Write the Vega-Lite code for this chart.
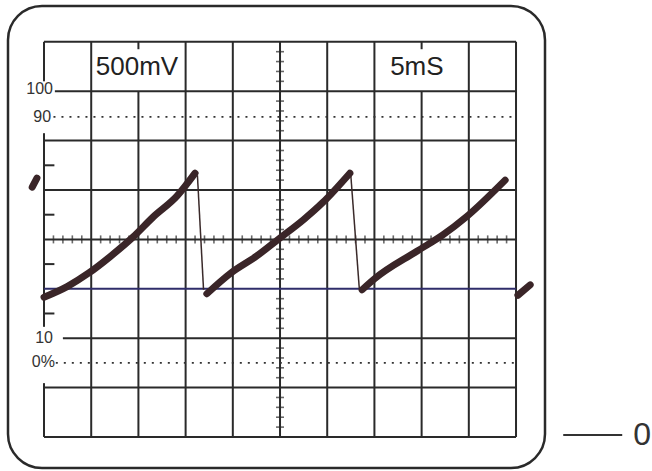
{
  "$schema": "https://vega.github.io/schema/vega-lite/v6.json",
  "autosize": {"type": "none"},
  "padding": {"left": 8, "top": 6, "right": 107, "bottom": 3},
  "width": 537,
  "height": 462,
  "background": "white",
  "config": {
    "view": {"stroke": "#2a2a2a", "strokeWidth": 2.5, "cornerRadius": 34, "fill": "white"},
    "axis": {"disable": true}
  },
  "datasets": {
    "vseg": [
      {"x": 0, "y0": 7.2, "y1": 8}, {"x": 0, "y0": 2.23, "y1": 6.15}, {"x": 0, "y0": 0, "y1": 1.09},
      {"x": 1, "y0": 0, "y1": 8}, {"x": 2, "y0": 0, "y1": 7}, {"x": 2, "y0": 7.85, "y1": 8},
      {"x": 3, "y0": 0, "y1": 8}, {"x": 4, "y0": 0, "y1": 8}, {"x": 5, "y0": 0, "y1": 8},
      {"x": 6, "y0": 0, "y1": 8}, {"x": 7, "y0": 0, "y1": 8}, {"x": 8, "y0": 0, "y1": 7},
      {"x": 8, "y0": 7.85, "y1": 8}, {"x": 9, "y0": 0, "y1": 8}, {"x": 10, "y0": 0, "y1": 8}
    ],
    "hseg": [
      {"y": 0, "x0": 0, "x1": 10}, {"y": 1, "x0": 0, "x1": 10}, {"y": 2, "x0": 0.4, "x1": 10},
      {"y": 4, "x0": 0, "x1": 10}, {"y": 5, "x0": 0, "x1": 10}, {"y": 6, "x0": 0, "x1": 10},
      {"y": 7, "x0": 0.23, "x1": 10}, {"y": 8, "x0": 0, "x1": 10},
      {"y": 2.5, "x0": 0, "x1": 0.22}, {"y": 3.5, "x0": 0, "x1": 0.22},
      {"y": 4.5, "x0": 0, "x1": 0.22}, {"y": 5.5, "x0": 0, "x1": 0.22}
    ],
    "blue": [{"y": 3, "x0": 0, "x1": 10}],
    "dots": [{"y": 6.48, "x0": 0.2, "x1": 10}, {"y": 1.5, "x0": 0.25, "x1": 10}],
    "vticks": [
      {"x": 5, "y": 0.2}, {"x": 5, "y": 0.4}, {"x": 5, "y": 0.6}, {"x": 5, "y": 0.8},
      {"x": 5, "y": 1.2}, {"x": 5, "y": 1.4}, {"x": 5, "y": 1.6}, {"x": 5, "y": 1.8},
      {"x": 5, "y": 2.2}, {"x": 5, "y": 2.4}, {"x": 5, "y": 2.6}, {"x": 5, "y": 2.8},
      {"x": 5, "y": 3.2}, {"x": 5, "y": 3.4}, {"x": 5, "y": 3.6}, {"x": 5, "y": 3.8},
      {"x": 5, "y": 4.2}, {"x": 5, "y": 4.4}, {"x": 5, "y": 4.6}, {"x": 5, "y": 4.8},
      {"x": 5, "y": 5.2}, {"x": 5, "y": 5.4}, {"x": 5, "y": 5.6}, {"x": 5, "y": 5.8},
      {"x": 5, "y": 6.2}, {"x": 5, "y": 6.4}, {"x": 5, "y": 6.6}, {"x": 5, "y": 6.8},
      {"x": 5, "y": 7.2}, {"x": 5, "y": 7.4}, {"x": 5, "y": 7.6}, {"x": 5, "y": 7.8}
    ],
    "hticks": [
      {"x": 0.2, "y": 4}, {"x": 0.4, "y": 4}, {"x": 0.6, "y": 4}, {"x": 0.8, "y": 4},
      {"x": 1.2, "y": 4}, {"x": 1.4, "y": 4}, {"x": 1.6, "y": 4}, {"x": 1.8, "y": 4},
      {"x": 2.2, "y": 4}, {"x": 2.4, "y": 4}, {"x": 2.6, "y": 4}, {"x": 2.8, "y": 4},
      {"x": 3.2, "y": 4}, {"x": 3.4, "y": 4}, {"x": 3.6, "y": 4}, {"x": 3.8, "y": 4},
      {"x": 4.2, "y": 4}, {"x": 4.4, "y": 4}, {"x": 4.6, "y": 4}, {"x": 4.8, "y": 4},
      {"x": 5.2, "y": 4}, {"x": 5.4, "y": 4}, {"x": 5.6, "y": 4}, {"x": 5.8, "y": 4},
      {"x": 6.2, "y": 4}, {"x": 6.4, "y": 4}, {"x": 6.6, "y": 4}, {"x": 6.8, "y": 4},
      {"x": 7.2, "y": 4}, {"x": 7.4, "y": 4}, {"x": 7.6, "y": 4}, {"x": 7.8, "y": 4},
      {"x": 8.2, "y": 4}, {"x": 8.4, "y": 4}, {"x": 8.6, "y": 4}, {"x": 8.8, "y": 4},
      {"x": 9.2, "y": 4}, {"x": 9.4, "y": 4}, {"x": 9.6, "y": 4}, {"x": 9.8, "y": 4}
    ],
    "wave": [
      {"seg": "r1", "x": 0, "y": 2.83}, {"seg": "r1", "x": 0.5, "y": 3.05}, {"seg": "r1", "x": 0.95, "y": 3.32},
      {"seg": "r1", "x": 1.4, "y": 3.65}, {"seg": "r1", "x": 1.89, "y": 4.05}, {"seg": "r1", "x": 2.31, "y": 4.45},
      {"seg": "r1", "x": 2.82, "y": 4.88}, {"seg": "r1", "x": 3.2, "y": 5.34},
      {"seg": "r2", "x": 3.45, "y": 2.9}, {"seg": "r2", "x": 3.96, "y": 3.32}, {"seg": "r2", "x": 4.5, "y": 3.66},
      {"seg": "r2", "x": 4.96, "y": 4.0}, {"seg": "r2", "x": 5.5, "y": 4.4}, {"seg": "r2", "x": 5.91, "y": 4.75},
      {"seg": "r2", "x": 6.48, "y": 5.34},
      {"seg": "r3", "x": 6.74, "y": 2.98}, {"seg": "r3", "x": 7.0, "y": 3.2}, {"seg": "r3", "x": 7.9, "y": 3.76},
      {"seg": "r3", "x": 8.45, "y": 4.09}, {"seg": "r3", "x": 8.94, "y": 4.45}, {"seg": "r3", "x": 9.77, "y": 5.2},
      {"seg": "f1", "x": -0.25, "y": 5.06}, {"seg": "f1", "x": -0.15, "y": 5.24},
      {"seg": "f2", "x": 10.04, "y": 2.87}, {"seg": "f2", "x": 10.3, "y": 3.08}
    ],
    "drops": [
      {"seg": "d1", "x": 3.25, "y": 5.3}, {"seg": "d1", "x": 3.38, "y": 2.98},
      {"seg": "d2", "x": 6.5, "y": 5.3}, {"seg": "d2", "x": 6.68, "y": 3.0}
    ],
    "big": [
      {"t": "500mV", "x": 1.97, "y": 7.5},
      {"t": "5mS", "x": 7.9, "y": 7.5}
    ],
    "scale": [
      {"t": "100", "x": 0.19, "y": 7.04},
      {"t": "90", "x": 0.15, "y": 6.48},
      {"t": "10", "x": 0.19, "y": 2.0},
      {"t": "0%", "x": 0.23, "y": 1.52}
    ],
    "zero": [{"t": "0", "x": 12.67, "y": 0.04}],
    "dash": [{"y": 0.04, "x0": 11.0, "x1": 12.25}]
  },
  "layer": [
    {
      "data": {"name": "vseg"},
      "mark": {"type": "rule", "color": "#2a2a2a", "strokeWidth": 2},
      "encoding": {
        "x": {"field": "x", "type": "quantitative", "scale": {"domain": [-0.763, 10.614], "nice": false, "zero": false}},
        "y": {"field": "y0", "type": "quantitative", "scale": {"domain": [-0.628, 8.725], "nice": false, "zero": false}},
        "y2": {"field": "y1"}
      }
    },
    {
      "data": {"name": "hseg"},
      "mark": {"type": "rule", "color": "#2a2a2a", "strokeWidth": 2},
      "encoding": {
        "y": {"field": "y", "type": "quantitative"},
        "x": {"field": "x0", "type": "quantitative"},
        "x2": {"field": "x1"}
      }
    },
    {
      "data": {"name": "blue"},
      "mark": {"type": "rule", "color": "#2f2d6a", "strokeWidth": 2},
      "encoding": {
        "y": {"field": "y", "type": "quantitative"},
        "x": {"field": "x0", "type": "quantitative"},
        "x2": {"field": "x1"}
      }
    },
    {
      "data": {"name": "dots"},
      "mark": {"type": "rule", "color": "#333333", "strokeWidth": 1.6, "strokeDash": [2, 6]},
      "encoding": {
        "y": {"field": "y", "type": "quantitative"},
        "x": {"field": "x0", "type": "quantitative"},
        "x2": {"field": "x1"}
      }
    },
    {
      "data": {"name": "vticks"},
      "mark": {"type": "tick", "orient": "horizontal", "color": "#2a2a2a", "size": 8, "thickness": 1.6},
      "encoding": {
        "x": {"field": "x", "type": "quantitative"},
        "y": {"field": "y", "type": "quantitative"}
      }
    },
    {
      "data": {"name": "hticks"},
      "mark": {"type": "tick", "orient": "vertical", "color": "#2a2a2a", "size": 8, "thickness": 1.6},
      "encoding": {
        "x": {"field": "x", "type": "quantitative"},
        "y": {"field": "y", "type": "quantitative"}
      }
    },
    {
      "data": {"name": "drops"},
      "mark": {"type": "line", "color": "#3a2a2a", "strokeWidth": 1.5},
      "encoding": {
        "x": {"field": "x", "type": "quantitative"},
        "y": {"field": "y", "type": "quantitative"},
        "detail": {"field": "seg"}
      }
    },
    {
      "data": {"name": "wave"},
      "mark": {"type": "line", "color": "#3a2528", "strokeWidth": 7, "strokeCap": "round", "strokeJoin": "round", "interpolate": "monotone"},
      "encoding": {
        "x": {"field": "x", "type": "quantitative"},
        "y": {"field": "y", "type": "quantitative"},
        "detail": {"field": "seg"}
      }
    },
    {
      "data": {"name": "big"},
      "mark": {"type": "text", "font": "Liberation Sans", "fontSize": 26, "color": "#222222", "align": "center", "baseline": "middle"},
      "encoding": {
        "x": {"field": "x", "type": "quantitative"},
        "y": {"field": "y", "type": "quantitative"},
        "text": {"field": "t"}
      }
    },
    {
      "data": {"name": "scale"},
      "mark": {"type": "text", "font": "Liberation Sans", "fontSize": 16, "color": "#333333", "align": "right", "baseline": "middle"},
      "encoding": {
        "x": {"field": "x", "type": "quantitative"},
        "y": {"field": "y", "type": "quantitative"},
        "text": {"field": "t"}
      }
    },
    {
      "data": {"name": "dash"},
      "mark": {"type": "rule", "color": "#333333", "strokeWidth": 2},
      "encoding": {
        "y": {"field": "y", "type": "quantitative"},
        "x": {"field": "x0", "type": "quantitative"},
        "x2": {"field": "x1"}
      }
    },
    {
      "data": {"name": "zero"},
      "mark": {"type": "text", "font": "Liberation Sans", "fontSize": 32, "color": "#333333", "align": "center", "baseline": "middle"},
      "encoding": {
        "x": {"field": "x", "type": "quantitative"},
        "y": {"field": "y", "type": "quantitative"},
        "text": {"field": "t"}
      }
    }
  ]
}
